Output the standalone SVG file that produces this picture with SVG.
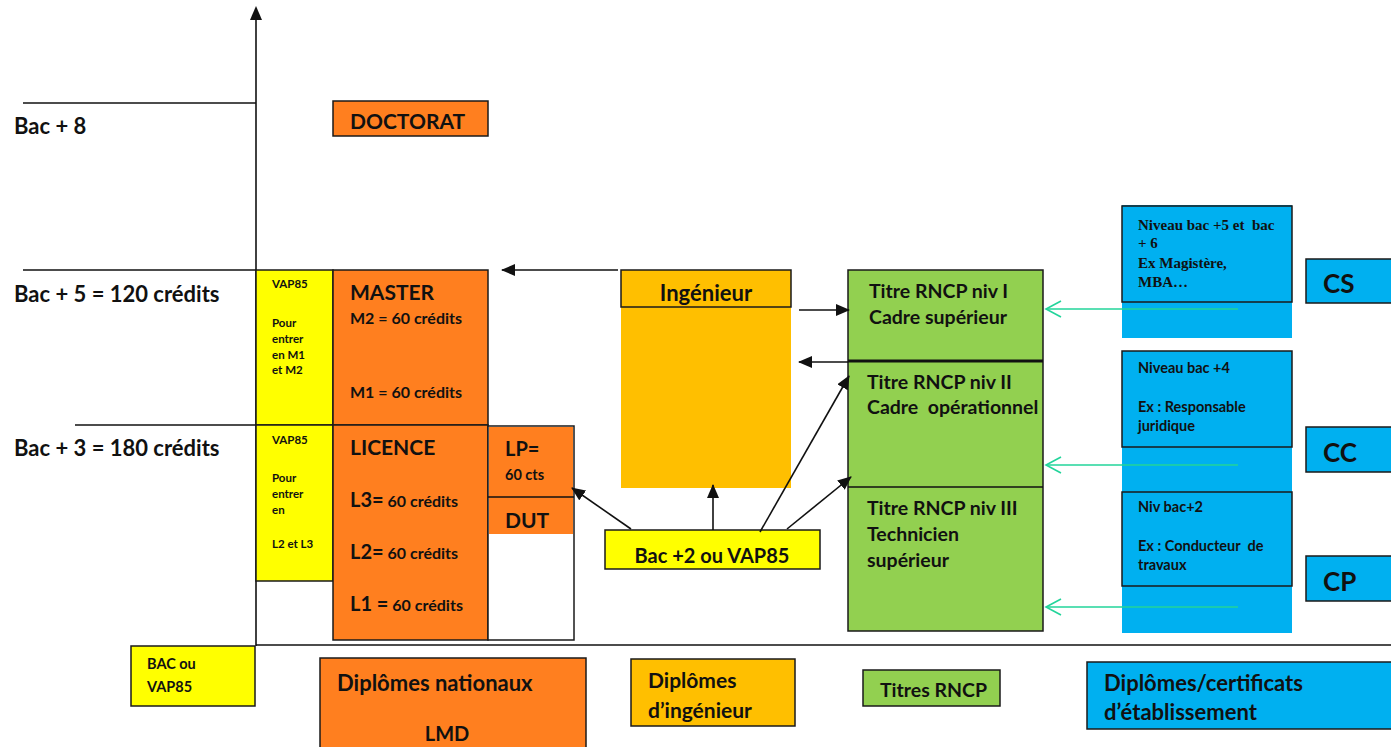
<svg xmlns="http://www.w3.org/2000/svg" width="1391" height="747" viewBox="0 0 1391 747">
<style>
text{font-family:Lato,"Liberation Sans",sans-serif;font-weight:bold;fill:#111}
.or{fill:#FF7F1F}.go{fill:#FFBF00}.gr{fill:#92D050}.bl{fill:#00B0F0}.ye{fill:#FFFF00}
.bd{stroke:#1a1a1a;stroke-width:1.5}
.ln{stroke:#111;stroke-width:1.6;fill:none}
.tl{stroke:#22D49A;stroke-width:1.6;fill:none}
.s11{font-size:11.5px}.s14{font-size:14.5px}.s16{font-size:16px}.s19{font-size:19.5px}.s20{font-size:20px}.s21{font-size:21px}.s22{font-size:22px}
.tm{font-family:"Liberation Serif",serif;font-size:15px}
</style>
<defs>
<marker id="ah" markerUnits="userSpaceOnUse" markerWidth="14" markerHeight="12" refX="13" refY="6" orient="auto">
<path d="M0,0 L14,6 L0,12 z" fill="#111"/>
</marker>
<marker id="oh" markerUnits="userSpaceOnUse" markerWidth="18" markerHeight="20" refX="16" refY="9" orient="auto">
<path d="M1,1 L16,9 L1,17" fill="none" stroke="#22D49A" stroke-width="1.6"/>
</marker>
</defs>
<rect width="1391" height="747" fill="#fff"/>

<g id="axes">
<line class="ln" x1="256" y1="18" x2="256" y2="646"/>
<path d="M256,6 L262,20 L250,20 z" fill="#111"/>
<line class="ln" x1="23" y1="103" x2="256" y2="103"/>
<line class="ln" x1="23" y1="270" x2="256" y2="270"/>
<line class="ln" x1="75" y1="425" x2="256" y2="425"/>
<line class="ln" x1="256" y1="645" x2="1391" y2="645"/>
<text class="s22" x="14" y="134">Bac + 8</text>
<text class="s22" x="14" y="302">Bac + 5 = 120 crédits</text>
<text class="s22" x="14" y="456">Bac + 3 = 180 crédits</text>
</g>

<g id="doctorat">
<rect class="or bd" x="333" y="101" width="155" height="35"/>
<text class="s21" x="350" y="129">DOCTORAT</text>
</g>

<g id="vap-master">
<rect class="ye bd" x="256" y="270" width="77" height="155"/>
<text class="s11" x="272" y="288">VAP85</text>
<text class="s11" x="272" y="327">Pour</text>
<text class="s11" x="272" y="343">entrer</text>
<text class="s11" x="272" y="359">en M1</text>
<text class="s11" x="272" y="374">et M2</text>
</g>

<g id="vap-licence">
<rect class="ye bd" x="256" y="425" width="77" height="156"/>
<text class="s11" x="272" y="444">VAP85</text>
<text class="s11" x="272" y="482">Pour</text>
<text class="s11" x="272" y="498">entrer</text>
<text class="s11" x="272" y="514">en</text>
<text class="s11" x="272" y="548">L2 et L3</text>
</g>

<g id="master">
<rect class="or bd" x="333" y="270" width="155" height="155"/>
<text class="s21" x="350" y="300">MASTER</text>
<text class="s16" x="350" y="324">M2 = 60 crédits</text>
<text class="s16" x="350" y="398">M1 = 60 crédits</text>
</g>

<g id="licence">
<rect class="or bd" x="333" y="425" width="155" height="215"/>
<text class="s21" x="350" y="455">LICENCE</text>
<text x="350" y="507"><tspan class="s20">L3=</tspan><tspan class="s16"> 60 crédits</tspan></text>
<text x="350" y="559"><tspan class="s20">L2=</tspan><tspan class="s16"> 60 crédits</tspan></text>
<text x="350" y="611"><tspan class="s20">L1 =</tspan><tspan class="s16"> 60 crédits</tspan></text>
</g>

<g id="lp-dut">
<rect x="488" y="426" width="86" height="214" fill="#fff" class="bd"/>
<rect class="or" x="489" y="427" width="84" height="107"/>
<line class="ln" x1="488" y1="497" x2="574" y2="497"/>
<text class="s20" x="505" y="456">LP=</text>
<text class="s14" x="505" y="480">60 cts</text>
<text class="s21" x="505" y="528">DUT</text>
</g>

<g id="ingenieur">
<rect class="go" x="621" y="307" width="170" height="181"/>
<rect class="go bd" x="621" y="270" width="170" height="37"/>
<text class="s22" x="706" y="301" text-anchor="middle">Ingénieur</text>
</g>

<g id="bac2">
<rect class="ye bd" x="605" y="530" width="215" height="39"/>
<text class="s20" x="712" y="563" text-anchor="middle">Bac +2 ou VAP85</text>
</g>

<g id="rncp">
<rect class="gr bd" x="848" y="270" width="195" height="361"/>
<line x1="848" y1="361" x2="1043" y2="361" stroke="#111" stroke-width="3"/>
<line class="ln" x1="848" y1="487" x2="1043" y2="487"/>
<text class="s19" x="869" y="298">Titre RNCP niv I</text>
<text class="s19" x="869" y="324">Cadre supérieur</text>
<text class="s19" x="867" y="389">Titre RNCP niv II</text>
<text class="s19" x="867" y="414" xml:space="preserve">Cadre  opérationnel</text>
<text class="s19" x="867" y="515">Titre RNCP niv III</text>
<text class="s19" x="867" y="541">Technicien</text>
<text class="s19" x="867" y="567">supérieur</text>
</g>

<g id="etablissement">
<rect class="bl" x="1122" y="205" width="170" height="133"/>
<rect class="bl" x="1122" y="351" width="170" height="282"/>
<rect class="bl bd" x="1122" y="206" width="170" height="96"/>
<rect class="bl bd" x="1122" y="351" width="170" height="96"/>
<rect class="bl bd" x="1122" y="492" width="170" height="94"/>
<text class="tm" x="1138" y="230" xml:space="preserve">Niveau bac +5 et  bac</text>
<text class="tm" x="1138" y="248">+ 6</text>
<text class="tm" x="1138" y="268">Ex Magistère,</text>
<text class="tm" x="1138" y="287">MBA…</text>
<text class="s14" x="1138" y="373">Niveau bac +4</text>
<text class="s14" x="1138" y="412">Ex : Responsable</text>
<text class="s14" x="1138" y="431">juridique</text>
<text class="s14" x="1138" y="512">Niv bac+2</text>
<text class="s14" x="1138" y="551" xml:space="preserve">Ex : Conducteur  de</text>
<text class="s14" x="1138" y="570">travaux</text>
</g>

<g id="cs">
<rect class="bl bd" x="1306" y="259" width="90" height="44"/>
<text x="1323" y="293" font-size="26">CS</text>
</g>
<g id="cc">
<rect class="bl bd" x="1306" y="427" width="90" height="45"/>
<text x="1323" y="462" font-size="26">CC</text>
</g>
<g id="cp">
<rect class="bl bd" x="1306" y="556" width="90" height="45"/>
<text x="1323" y="591" font-size="26">CP</text>
</g>

<g id="bac">
<rect class="ye bd" x="131" y="646" width="124" height="60"/>
<text class="s14" x="147" y="669">BAC ou</text>
<text class="s14" x="147" y="692">VAP85</text>
</g>

<g id="legend-lmd">
<rect class="or bd" x="320" y="658" width="266" height="95"/>
<text class="s22" x="337" y="691">Diplômes nationaux</text>
<text class="s20" x="447" y="741" text-anchor="middle">LMD</text>
</g>
<g id="legend-ing">
<rect class="go bd" x="631" y="659" width="164" height="67"/>
<text class="s21" x="648" y="688">Diplômes</text>
<text class="s21" x="648" y="718">d’ingénieur</text>
</g>
<g id="legend-rncp">
<rect class="gr bd" x="863" y="670" width="137" height="36"/>
<text class="s19" x="880" y="697">Titres RNCP</text>
</g>
<g id="legend-etab">
<rect class="bl bd" x="1087" y="662" width="310" height="67"/>
<text class="s22" x="1104" y="691">Diplômes/certificats</text>
<text class="s22" x="1104" y="720">d’établissement</text>
</g>

<g id="connectors">
<line class="ln" x1="618" y1="270" x2="502" y2="270" marker-end="url(#ah)"/>
<line class="ln" x1="799" y1="310" x2="849" y2="310" marker-end="url(#ah)"/>
<line class="ln" x1="848" y1="362" x2="799" y2="362" marker-end="url(#ah)"/>
<line class="ln" x1="631" y1="529" x2="572" y2="488" marker-end="url(#ah)"/>
<line class="ln" x1="713" y1="530" x2="713" y2="485" marker-end="url(#ah)"/>
<line class="ln" x1="760" y1="532" x2="849" y2="376" marker-end="url(#ah)"/>
<line class="ln" x1="787" y1="529" x2="851" y2="477" marker-end="url(#ah)"/>
<line class="tl" x1="1238" y1="309" x2="1046" y2="309" marker-end="url(#oh)"/>
<line class="tl" x1="1238" y1="465" x2="1046" y2="465" marker-end="url(#oh)"/>
<line class="tl" x1="1238" y1="607" x2="1046" y2="607" marker-end="url(#oh)"/>
</g>
</svg>
